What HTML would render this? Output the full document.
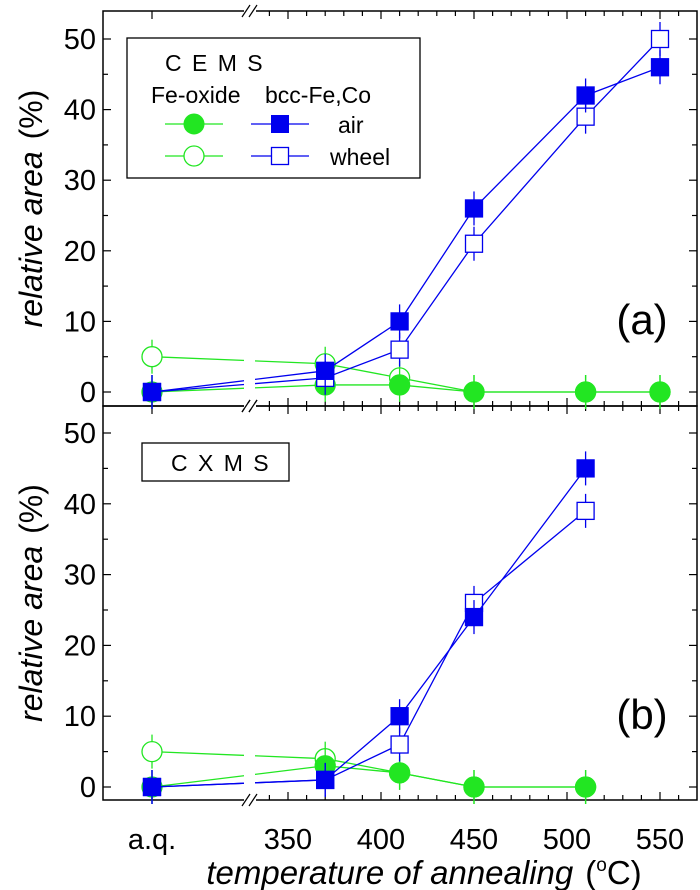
<!DOCTYPE html>
<html><head><meta charset="utf-8"><style>
body{margin:0;background:#fff;}
svg{display:block;font-family:"Liberation Sans",sans-serif;}
</style></head><body>
<svg id="chart" width="700" height="890" viewBox="0 0 700 890" xmlns="http://www.w3.org/2000/svg"></svg>
<script>
const categories = ["a.q.", 370, 410, 450, 510, 550];
const xTickLabels = [350, 400, 450, 500, 550];
const yTickLabels = [0, 10, 20, 30, 40, 50];
const aAirBcc = [0, 3, 10, 26, 42, 46];
const aWheelBcc = [0, 2, 6, 21, 39, 50];
const aAirOxide = [0, 1, 1, 0, 0, 0];
const aWheelOxide = [5, 4, 2, 0, 0, 0];
const bAirBcc = [0, 1, 10, 24, 45];
const bWheelBcc = [0, 1, 6, 26, 39];
const bAirOxide = [0, 3, 2, 0, 0];
const bWheelOxide = [5, 4, 2, 0, 0];

const NS = "http://www.w3.org/2000/svg";
const svg = document.getElementById("chart");
const GREEN = "#22e622", BLUE = "#0000ee";
const L = 103, R = 697;
function xs(c) { return c === "a.q." ? 152 : 381 + (c - 400) * 1.86; }
const panels = [
  {top: 11, bot: 406, y0: 392, y50: 39, name: "a"},
  {top: 406, bot: 800, y0: 787, y50: 433, name: "b"}
];
function mk(tag, attrs, parent) {
  const e = document.createElementNS(NS, tag);
  for (const k in attrs) e.setAttribute(k, attrs[k]);
  (parent || svg).appendChild(e);
  return e;
}
function ys(p, v) { return p.y0 + (p.y50 - p.y0) * v / 50; }

panels.forEach((p) => {
  const g = mk("g", {});
  
  
  const f = mk("rect", {x: L, y: p.top, width: R - L, height: p.bot - p.top, fill: "none", stroke: "#000", "stroke-width": 1.5}, g);
  
  
  for (let v = 0; v <= 50; v += 5) {
    const y = ys(p, v), len = v % 10 === 0 ? 8 : 5;
    mk("line", {x1: L, x2: L + len, y1: y, y2: y, stroke: "#000", "stroke-width": 1.2}, g);
    mk("line", {x1: R, x2: R - len, y1: y, y2: y, stroke: "#000", "stroke-width": 1.2}, g);
  }
  yTickLabels.forEach(v => {
    const t = mk("text", {x: 96, y: ys(p, v) + 10, "font-size": 29, "text-anchor": "end"}, g);
    t.textContent = v;
    
    
  });
  const xt = [{x: xs("a.q."), big: true}];
  for (let T = 340; T <= 560; T += 10) { const x = xs(T); if (x > 258 && x < R) xt.push({x, big: T % 50 === 0}); }
  xt.forEach(t => {
    const len = t.big ? 8 : 5;
    mk("line", {x1: t.x, x2: t.x, y1: p.top, y2: p.top + len, stroke: "#000", "stroke-width": 1.2}, g);
    mk("line", {x1: t.x, x2: t.x, y1: p.bot, y2: p.bot - len, stroke: "#000", "stroke-width": 1.2}, g);
  });
  [p.top, p.bot].forEach(yy => {
    mk("rect", {x: 244, y: yy - 3, width: 12, height: 6, fill: "#fff"}, g);
    mk("line", {x1: 242, y1: yy + 6, x2: 250, y2: yy - 6, stroke: "#000", "stroke-width": 1.2}, g);
    mk("line", {x1: 249, y1: yy + 6, x2: 257, y2: yy - 6, stroke: "#000", "stroke-width": 1.2}, g);
  });
  const yt = mk("text", {transform: "translate(42," + ((p.top + p.bot) / 2) + ") rotate(-90)", "font-size": 32, "text-anchor": "middle"}, g);
  yt.innerHTML = '<tspan font-style="italic">relative area</tspan><tspan dx="12">(%)</tspan>';
  
  
});

function series(p, vals, color, marker, filled, name) {
  const g = mk("g", {});
  
  
  const pts = vals.map((v, i) => [xs(categories[i]), ys(p, v)]);
  mk("polyline", {points: pts.map(q => q.join(",")).join(" "), fill: "none", stroke: color, "stroke-width": 1.3}, g);
  mk("rect", {x: 244, y: Math.min(pts[0][1], pts[1][1]) - 3, width: 11, height: Math.abs(pts[0][1] - pts[1][1]) + 6, fill: "#fff"}, g);
  pts.forEach(q => {
    mk("line", {x1: q[0], x2: q[0], y1: q[1] - 17, y2: q[1] + 17, stroke: color, "stroke-width": 1.3}, g);
  });
  pts.forEach(q => {
    let m;
    if (marker === "sq") m = mk("rect", {x: q[0] - 8.5, y: q[1] - 8.5, width: 17, height: 17, fill: filled ? color : "#fff", stroke: color, "stroke-width": 1.3}, g);
    else m = mk("circle", {cx: q[0], cy: q[1], r: 10, fill: filled ? color : "#fff", stroke: color, "stroke-width": 1.3}, g);
    
    
  });
}
const A = panels[0], B = panels[1];
series(A, aWheelOxide, GREEN, "c", false, "a-wheel-oxide");
series(A, aAirOxide, GREEN, "c", true, "a-air-oxide");
series(A, aWheelBcc, BLUE, "sq", false, "a-wheel-bcc");
series(A, aAirBcc, BLUE, "sq", true, "a-air-bcc");
series(B, bWheelOxide, GREEN, "c", false, "b-wheel-oxide");
series(B, bAirOxide, GREEN, "c", true, "b-air-oxide");
series(B, bWheelBcc, BLUE, "sq", false, "b-wheel-bcc");
series(B, bAirBcc, BLUE, "sq", true, "b-air-bcc");

xTickLabels.forEach(T => {
  const t = mk("text", {x: xs(T), y: 849, "font-size": 29, "text-anchor": "middle"});
  t.textContent = T;
  
  
});
const aq = mk("text", {x: xs("a.q."), y: 849, "font-size": 29, "text-anchor": "middle"});
aq.textContent = "a.q.";


</script>
<svg style="position:absolute;left:0;top:0" width="700" height="890" font-family="Liberation Sans, sans-serif">
  <text x="424" y="884" font-size="33" text-anchor="middle"><tspan font-style="italic">temperature of annealing</tspan><tspan dx="12">(</tspan><tspan font-size="19" dy="-13">o</tspan><tspan dy="13">C)</tspan></text>
  <text x="642" y="334" font-size="42" text-anchor="middle">(a)</text>
  <text x="642" y="729" font-size="42" text-anchor="middle">(b)</text>
  <g>
    <rect x="127" y="38" width="293" height="140" fill="#fff" stroke="#000" stroke-width="1.3"/>
    <text x="165" y="71" font-size="23" letter-spacing="2">C E M S</text>
    <text x="151" y="103" font-size="23">Fe-oxide</text>
    <text x="265" y="103" font-size="23">bcc-Fe,Co</text>
    <line x1="165" x2="223" y1="124" y2="124" stroke="#22e622" stroke-width="1.3"/>
    <circle cx="194" cy="124" r="10" fill="#22e622" stroke="#22e622"/>
    <line x1="165" x2="223" y1="156" y2="156" stroke="#22e622" stroke-width="1.3"/>
    <circle cx="194" cy="156" r="10" fill="#fff" stroke="#22e622" stroke-width="1.3"/>
    <line x1="251" x2="309" y1="124" y2="124" stroke="#0000ee" stroke-width="1.3"/>
    <rect x="271.5" y="115.5" width="17" height="17" fill="#0000ee" stroke="#0000ee"/>
    <line x1="251" x2="309" y1="156" y2="156" stroke="#0000ee" stroke-width="1.3"/>
    <rect x="271.5" y="147.5" width="17" height="17" fill="#fff" stroke="#0000ee" stroke-width="1.3"/>
    <text x="338" y="133" font-size="23">air</text>
    <text x="330" y="165" font-size="23">wheel</text>
  </g>
  <g>
    <rect x="142" y="443" width="147" height="38" fill="#fff" stroke="#000" stroke-width="1.3"/>
    <text x="171" y="471" font-size="23" letter-spacing="2">C X M S</text>
  </g>
</svg>
</body></html>
